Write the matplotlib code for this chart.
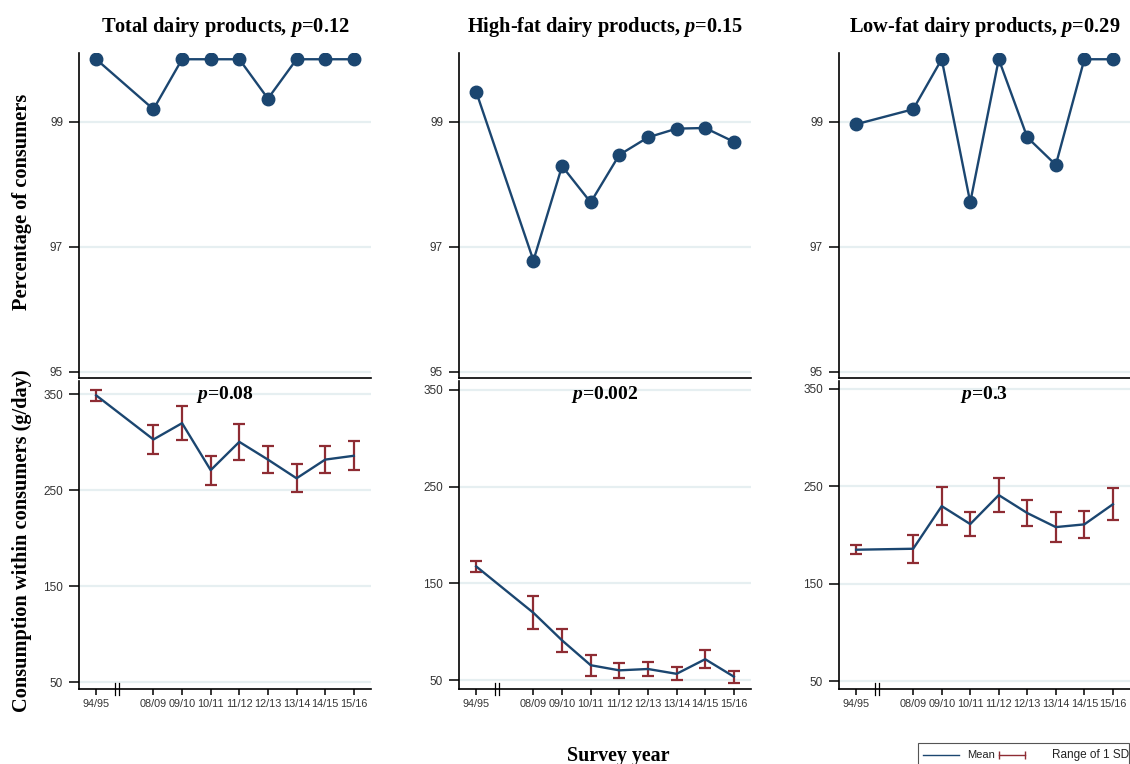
from matplotlib import pyplot as plt
from matplotlib.lines import Line2D
from matplotlib.patches import Rectangle
import matplotlib.transforms as mtransforms

plt.rcParams['font.family'] = ['Liberation Sans', 'DejaVu Sans']
plt.rcParams['mathtext.fontset'] = 'custom'
plt.rcParams['mathtext.rm'] = 'Liberation Serif:bold'
plt.rcParams['mathtext.bfit'] = 'Liberation Serif:italic:bold'

years = ['94/95', '08/09', '09/10', '10/11', '11/12', '12/13', '13/14', '14/15', '15/16']
year_pos = [0, 2, 3, 4, 5, 6, 7, 8, 9]

titles = ['Total dairy products', 'High-fat dairy products', 'Low-fat dairy products']
p_pct = ['0.12', '0.15', '0.29']
p_amount = ['0.08', '0.002', '0.3']

# share of consumers (%)
pct_total = [100, 99.2, 100, 100, 100, 99.37, 100, 100, 100]
pct_high = [99.48, 96.78, 98.29, 97.71, 98.47, 98.75, 98.89, 98.9, 98.68]
pct_low = [98.96, 99.2, 100, 97.71, 100, 98.75, 98.31, 100, 100]

# consumption within consumers, mean and SD (g/day)
mean_total = [349, 303, 320, 271, 300.5, 282, 262.5, 282, 286]
sd_total = [5.5, 15.5, 18, 15, 18.6, 14, 14.5, 14, 15]
mean_high = [167.5, 119.5, 91, 65.3, 60, 61.4, 56.4, 71.5, 53.5]
sd_high = [5.5, 17, 11.7, 10.8, 8, 7.6, 6.7, 9.2, 6.2]
mean_low = [185, 186, 229.7, 211.3, 241, 222.6, 208.2, 211, 231.6]
sd_low = [4.7, 14.2, 19.7, 12.5, 17.8, 13.5, 15.6, 14, 16.4]

pct_series = [pct_total, pct_high, pct_low]
mean_series = [mean_total, mean_high, mean_low]
sd_series = [sd_total, sd_high, sd_low]

blue = '#1b4670'
red = '#8e2c33'
grid_col = '#e6eff1'
tick_col = '#333333'
serif = ['Liberation Serif', 'DejaVu Serif']

W, H = 1130, 764
fig = plt.figure(figsize=(W / 100, H / 100), dpi=100)

col_x = [79, 459, 839]
col_w = [292, 292, 291]
bottom_ylims = [(42.7, 364), (40.7, 359.3), (42.2, 358)]


def px(x, y):
    # pixel position (from top-left) to figure fraction
    return x / W, 1 - y / H


def style_axes(ax):
    for side in ['top', 'right']:
        ax.spines[side].set_visible(False)
    for side in ['left', 'bottom']:
        ax.spines[side].set_linewidth(1.2)
        ax.spines[side].set_color('black')
    ax.grid(axis='y', color=grid_col, linewidth=1.6)
    ax.set_axisbelow(True)
    ax.tick_params(axis='y', length=7.5, width=1.1, labelsize=8.5, labelcolor=tick_col, pad=4)
    ax.set_xlim(-0.6, 9.6)


for i in range(3):
    x0 = col_x[i] / W
    w = col_w[i] / W

    # top row: percentage of consumers
    ax = fig.add_axes([x0, 1 - 378 / H, w, 325 / H])
    style_axes(ax)
    ax.plot(year_pos, pct_series[i], color=blue, linewidth=1.7,
            marker='o', markersize=9, markerfacecolor=blue, markeredgecolor=blue)
    ax.set_ylim(94.9, 100.1)
    ax.set_yticks([95, 97, 99])
    ax.set_xticks([])
    ax.set_title(titles[i] + r', $\mathbfit{p}$=' + p_pct[i], family=serif,
                 fontweight='bold', fontsize=14.7, pad=15)

    # bottom row: consumption within consumers
    ax = fig.add_axes([x0, 1 - 689 / H, w, 308 / H])
    style_axes(ax)
    ax.errorbar(year_pos, mean_series[i], yerr=sd_series[i], fmt='none',
                ecolor=red, elinewidth=1.6, capsize=4.4, capthick=1.6, zorder=2)
    ax.plot(year_pos, mean_series[i], color=blue, linewidth=1.7, zorder=3)
    ax.set_ylim(*bottom_ylims[i])
    ax.set_yticks([50, 150, 250, 350])
    ax.set_xticks(year_pos)
    ax.set_xticklabels(years)
    ax.tick_params(axis='x', length=4, width=1.1, labelsize=7.8, labelcolor=tick_col, pad=3)
    ax.text(0.5, 0.955, r'$\mathbfit{p}$=' + p_amount[i], transform=ax.transAxes,
            ha='center', va='center', family=serif, fontweight='bold', fontsize=14)

    # axis break between 94/95 and 08/09
    trans = mtransforms.blended_transform_factory(ax.transData, ax.transAxes)
    for bx in [0.66, 0.8]:
        ax.plot([bx, bx], [-0.02, 0.02], transform=trans, color='black',
                linewidth=0.9, clip_on=False)

fig.text(*px(22, 202), 'Percentage of consumers', rotation=90, ha='center', va='center',
         family=serif, fontweight='bold', fontsize=14.7)
fig.text(*px(22, 541), 'Consumption within consumers (g/day)', rotation=90,
         ha='center', va='center', family=serif, fontweight='bold', fontsize=14.7)
fig.text(*px(618, 756), 'Survey year', ha='center', va='center',
         family=serif, fontweight='bold', fontsize=14.4)

# legend box along the bottom edge
bx0, by0 = px(918, 785)
bx1, by1 = px(1129, 743)
fig.add_artist(Rectangle((bx0, by0), bx1 - bx0, by1 - by0, transform=fig.transFigure,
                         facecolor='white', edgecolor='#555555', linewidth=0.8))
ly = 1 - 755 / H
fig.add_artist(Line2D([923 / W, 959 / W], [ly, ly], transform=fig.transFigure,
                      color=blue, linewidth=1))
fig.text(967 / W, ly, 'Mean', ha='left', va='center', fontsize=8, color='#222222')
fig.add_artist(Line2D([999 / W, 1025 / W], [ly, ly], transform=fig.transFigure,
                      color=red, linewidth=1, marker='|', markersize=6,
                      markeredgewidth=1))
fig.text(1052 / W, ly, 'Range of 1 SD', ha='left', va='center', fontsize=8.5, color='#222222')

fig.savefig('out.png', dpi=100)
